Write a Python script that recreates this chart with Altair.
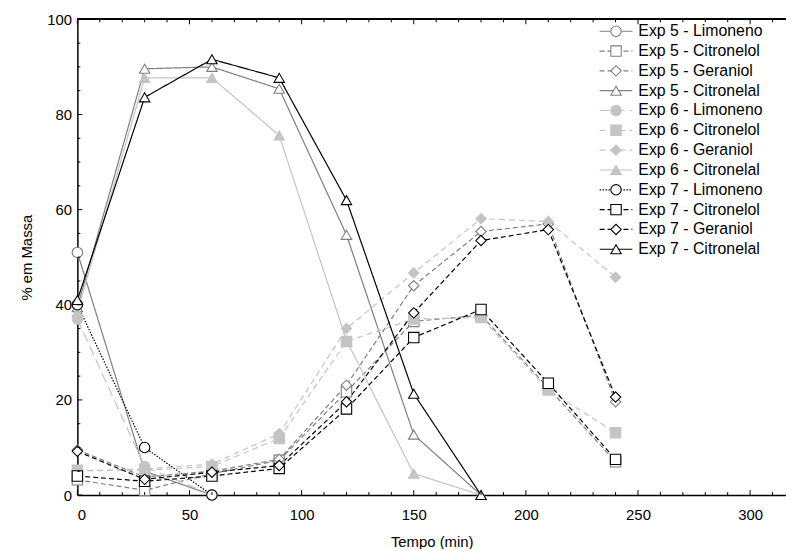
import altair as alt
import pandas as pd

FONT = "Liberation Sans"

# ---------------- data ----------------
series_names = [
    "Exp 5 - Limoneno", "Exp 5 - Citronelol", "Exp 5 - Geraniol", "Exp 5 - Citronelal",
    "Exp 6 - Limoneno", "Exp 6 - Citronelol", "Exp 6 - Geraniol", "Exp 6 - Citronelal",
    "Exp 7 - Limoneno", "Exp 7 - Citronelol", "Exp 7 - Geraniol", "Exp 7 - Citronelal",
]

t_lim = [0, 30, 60]
t_cal = [0, 30, 60, 90, 120, 150, 180]
t_all = [0, 30, 60, 90, 120, 150, 180, 210, 240]

exp5_limoneno = [51.0, 5.0, 0.0]
exp5_citronelol = [3.2, 1.0, 4.5, 7.3, 21.7, 36.5, 37.8, 22.5, 7.0]
exp5_geraniol = [9.5, 3.8, 5.0, 7.5, 23.1, 44.0, 55.4, 57.0, 19.6]
exp5_citronelal = [39.5, 89.6, 90.0, 85.4, 54.7, 12.7, 0.0]

exp6_limoneno = [37.0, 6.0, 0.0]
exp6_citronelol = [5.2, 5.2, 6.0, 11.9, 32.3, 37.0, 37.3, 22.1, 13.1]
exp6_geraniol = [5.0, 5.5, 6.5, 12.9, 35.0, 46.7, 58.1, 57.5, 45.8]
exp6_citronelal = [38.5, 87.7, 87.7, 75.6, 32.5, 4.5, 0.0]

exp7_limoneno = [40.0, 10.0, 0.0]
exp7_citronelol = [4.0, 2.9, 4.0, 5.6, 18.1, 33.1, 39.0, 23.5, 7.5]
exp7_geraniol = [9.2, 3.3, 4.8, 6.2, 19.6, 38.3, 53.5, 55.8, 20.6]
exp7_citronelal = [41.0, 83.6, 91.6, 87.7, 62.0, 21.3, 0.0]

x_major = [0, 50, 100, 150, 200, 250, 300]
x_minor = [10, 20, 30, 40, 60, 70, 80, 90, 110, 120, 130, 140, 160, 170, 180, 190,
           210, 220, 230, 240, 260, 270, 280, 290, 310]
y_major = [0, 20, 40, 60, 80, 100]
y_minor = [5, 10, 15, 25, 30, 35, 45, 50, 55, 65, 70, 75, 85, 90, 95]

# ---------------- styles ----------------
stroke_colors = ["#7f7f7f"] * 4 + ["#c4c4c4"] * 4 + ["#000000"] * 4
fill_colors = ["#ffffff"] * 4 + ["#c4c4c4"] * 4 + ["#ffffff"] * 4
shapes = ["circle", "square", "diamond", "triangle-up"] * 3
dashes = [[1, 0], [5, 3], [5, 3], [1, 0],
          [10, 5], [6, 4], [6, 4], [1, 0],
          [1.5, 1.5], [5, 3], [5, 3], [1, 0]]

pairs = [
    (series_names[0], t_lim, exp5_limoneno), (series_names[1], t_all, exp5_citronelol),
    (series_names[2], t_all, exp5_geraniol), (series_names[3], t_cal, exp5_citronelal),
    (series_names[4], t_lim, exp6_limoneno), (series_names[5], t_all, exp6_citronelol),
    (series_names[6], t_all, exp6_geraniol), (series_names[7], t_cal, exp6_citronelal),
    (series_names[8], t_lim, exp7_limoneno), (series_names[9], t_all, exp7_citronelol),
    (series_names[10], t_all, exp7_geraniol), (series_names[11], t_cal, exp7_citronelal),
]
rows = []
for order, (name, ts, vs) in enumerate(pairs):
    for t, v in zip(ts, vs):
        rows.append({"series": name, "t": t, "v": v, "k": order})
df = pd.DataFrame(rows)

W, H = 715, 480
x_scale = alt.Scale(domain=[0, 316], nice=False, zero=False)
y_scale = alt.Scale(domain=[0, 100], nice=False)

stroke_enc = alt.Stroke("series:N", scale=alt.Scale(domain=series_names, range=stroke_colors), legend=None)
fill_enc = alt.Fill("series:N", scale=alt.Scale(domain=series_names, range=fill_colors), legend=None)
shape_enc = alt.Shape("series:N", scale=alt.Scale(domain=series_names, range=shapes), legend=None)
dash_enc = alt.StrokeDash("series:N", scale=alt.Scale(domain=series_names, range=dashes), legend=None)

x_enc = alt.X("t:Q", scale=x_scale, axis=alt.Axis(
    values=x_major, title="Tempo (min)", ticks=False, grid=False,
    domainColor="#000000", domainWidth=1.5, labelFont=FONT, labelFontSize=15,
    labelColor="#000000", labelPadding=13, titleFont=FONT, titleFontSize=15,
    titleFontWeight="normal", titleColor="#000000", titlePadding=12))
y_enc = alt.Y("v:Q", scale=y_scale, axis=alt.Axis(
    values=y_major, title="% em Massa", ticks=False, grid=False,
    domainColor="#000000", domainWidth=1.5, labelFont=FONT, labelFontSize=15,
    labelColor="#000000", labelPadding=6, titleFont=FONT, titleFontSize=15,
    titleFontWeight="normal", titleColor="#000000", titlePadding=12))

lines = alt.Chart(df).mark_line(strokeWidth=1.2).encode(
    x=x_enc, y=y_enc, stroke=stroke_enc, strokeDash=dash_enc, detail="series:N")

points = alt.Chart(df).mark_point(filled=True, size=110, strokeWidth=1.1, opacity=1).encode(
    x="t:Q", y="v:Q", stroke=stroke_enc, fill=fill_enc, shape=shape_enc, order="k:Q")

# inward axis ticks
xmaj = pd.DataFrame({"t": x_major})
xmin = pd.DataFrame({"t": x_minor})
ymaj = pd.DataFrame({"v": y_major})
ymin = pd.DataFrame({"v": y_minor})

tick_layers = []
for d, ln in [(xmaj, 5), (xmin, 3)]:
    tick_layers.append(alt.Chart(d).mark_rule(color="#000000", strokeWidth=1).encode(
        x="t:Q", y=alt.value(H), y2=alt.value(H - ln)))
    tick_layers.append(alt.Chart(d).mark_rule(color="#000000", strokeWidth=1).encode(
        x="t:Q", y=alt.value(0), y2=alt.value(ln)))
for d, ln in [(ymaj, 5), (ymin, 3)]:
    tick_layers.append(alt.Chart(d).mark_rule(color="#000000", strokeWidth=1).encode(
        y="v:Q", x=alt.value(0), x2=alt.value(ln)))

top_border = alt.Chart(xmaj).mark_rule(color="#000000", strokeWidth=1.5).encode(
    x=alt.value(0), x2=alt.value(W), y=alt.value(0))

main = alt.layer(lines, points, *tick_layers, top_border)

# legend drawn as a layer
leg_df = pd.DataFrame({"series": series_names, "k": list(range(len(series_names)))})
leg_y = alt.Y("series:N", scale=alt.Scale(type="point", domain=series_names,
                                           range=[12, 232], padding=0), axis=None)
leg_lines = alt.Chart(leg_df).mark_rule(strokeWidth=1.2).encode(
    x=alt.value(527), x2=alt.value(560), y=leg_y, stroke=stroke_enc, strokeDash=dash_enc)
leg_pts = alt.Chart(leg_df).mark_point(filled=True, size=110, strokeWidth=1.1, opacity=1).encode(
    x=alt.value(543.5), y=leg_y, stroke=stroke_enc, fill=fill_enc, shape=shape_enc)
leg_txt = alt.Chart(leg_df).mark_text(align="left", baseline="middle", font=FONT,
                                      fontSize=16, color="#000000").encode(
    x=alt.value(566), y=leg_y, text="series:N")
legend = alt.layer(leg_lines, leg_pts, leg_txt)

chart = alt.layer(main, legend).resolve_scale(y="independent").properties(
    width=W, height=H,
    autosize=alt.AutoSizeParams(type="none"),
    padding={"left": 70, "top": 9, "right": 0, "bottom": 52},
).configure_view(stroke=None)

chart.save("out.html", embed_options={"renderer": "svg", "actions": False})
